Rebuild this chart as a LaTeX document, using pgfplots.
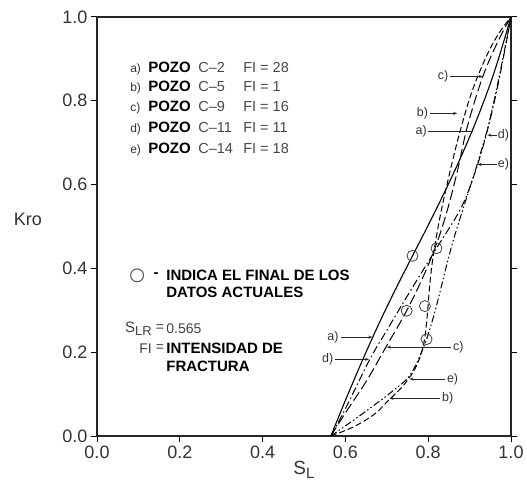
\documentclass[border=0pt]{standalone}
\usepackage{fontspec}
\setmainfont{Liberation Sans}
\newfontfamily\symfont{DejaVu Sans}
\usepackage{pgfplots}
\pgfplotsset{compat=1.18}
\usetikzlibrary{arrows.meta}
\pgfplotstableread{
x y
0.565 0
0.60 0.085
0.64 0.178
0.68 0.266
0.72 0.348
0.76 0.426
0.80 0.503
0.84 0.583
0.88 0.668
0.92 0.762
0.96 0.870
1.0 1.0
}\curveA
\pgfplotstableread{
x y
0.565 0
0.62 0.022
0.67 0.052
0.704 0.085
0.735 0.115
0.76 0.147
0.778 0.182
0.79 0.225
0.797 0.28
0.802 0.34
0.808 0.40
0.817 0.46
0.83 0.53
0.85 0.62
0.875 0.72
0.905 0.82
0.94 0.905
0.97 0.96
1.0 1.0
}\curveB
\pgfplotstableread{
x y
0.565 0
0.60 0.055
0.65 0.13
0.696 0.209
0.748 0.299
0.79 0.385
0.82 0.458
0.845 0.535
0.87 0.63
0.895 0.74
0.932 0.858
0.97 0.945
1.0 1.0
}\curveC
\pgfplotstableread{
x y
0.565 0
0.60 0.065
0.659 0.183
0.70 0.252
0.75 0.335
0.82 0.448
0.877 0.54
0.91 0.62
0.941 0.722
0.97 0.845
1.0 1.0
}\curveD
\pgfplotstableread{
x y
0.565 0
0.62 0.038
0.67 0.074
0.71 0.104
0.752 0.14
0.775 0.18
0.795 0.228
0.81 0.275
0.825 0.33
0.84 0.39
0.86 0.465
0.89 0.56
0.917 0.644
0.945 0.74
0.972 0.86
1.0 1.0
}\curveE
\pgfplotstableread{
x y
0.762 0.430
0.820 0.448
0.748 0.299
0.792 0.310
0.796 0.231
}\circs
\newcommand\lab{\fontsize{12bp}{14bp}\selectfont\color{black!80}}
\newcommand\pozo{\fontsize{15bp}{17bp}\selectfont\bfseries}
\newcommand\lite{\fontsize{14.5bp}{17bp}\selectfont\color{black!72}}
\newcommand\row[4]{\makebox[18bp][l]{\lab #1}\makebox[50bp][l]{\pozo POZO}\makebox[45bp][l]{\lite #2}{\lite FI = #3}}
\begin{document}
\begin{tikzpicture}
\begin{axis}[
  scale only axis, width=414bp, height=419bp,
  xmin=0, xmax=1, ymin=0, ymax=1,
  xtick={0,0.2,0.4,0.6,0.8,1.0}, ytick={0,0.2,0.4,0.6,0.8,1.0},
  xticklabel style={/pgf/number format/fixed, /pgf/number format/fixed zerofill, /pgf/number format/precision=1},
  yticklabel style={/pgf/number format/fixed, /pgf/number format/fixed zerofill, /pgf/number format/precision=1},
  /pgf/number format/assume math mode=true,
  tick label style={font=\fontsize{18bp}{20bp}\selectfont, text=black!80},
  tick align=outside, xtick pos=bottom, ytick pos=both, yticklabel pos=left,
  major tick length=6bp,
  tick style={line width=1pt, black},
  axis line style={line width=1.4pt, black!85},
  xlabel={S\raisebox{-0.45ex}{\fontsize{15bp}{15bp}\selectfont L}},
  xlabel style={font=\fontsize{19bp}{22bp}\selectfont, text=black!80, yshift=4bp},
  clip=false,
]
\addplot[black, line width=1.1pt, smooth, tension=0.6] table {\curveA};
\addplot[black, line width=1.0pt, smooth, tension=0.6, dash pattern=on 6bp off 3bp] table {\curveB};
\addplot[black, line width=1.0pt, smooth, tension=0.6, dash pattern=on 10bp off 4bp] table {\curveC};
\addplot[black, line width=1.0pt, smooth, tension=0.6, dash pattern=on 8bp off 3bp on 1.5bp off 3bp] table {\curveD};
\addplot[black, line width=1.0pt, smooth, tension=0.6, dash pattern=on 7bp off 2.5bp on 1.5bp off 2.5bp on 1.5bp off 2.5bp] table {\curveE};
\addplot[only marks, mark=o, mark size=5.5bp, mark options={black!75, line width=0.8pt}] table {\circs};

% y label
\node[font=\fontsize{18bp}{20bp}\selectfont, text=black!80] at (axis description cs:-0.167,0.518) {Kro};

% well legend
\node[anchor=west, inner sep=0] at (axis cs:0.08,0.878) {\row{a)}{C–2}{28}{}};
\node[anchor=west, inner sep=0] at (axis cs:0.08,0.832) {\row{b)}{C–5}{1}{}};
\node[anchor=west, inner sep=0] at (axis cs:0.08,0.784) {\row{c)}{C–9}{16}{}};
\node[anchor=west, inner sep=0] at (axis cs:0.08,0.734) {\row{d)}{C–11}{11}{}};
\node[anchor=west, inner sep=0] at (axis cs:0.08,0.683) {\row{e)}{C–14}{18}{}};

% circle note
\node[inner sep=0, font=\symfont\fontsize{18bp}{18bp}\selectfont, text=black!75] at (axis cs:0.097,0.383) {○};
\node[inner sep=0, font=\fontsize{15bp}{17bp}\selectfont\bfseries] at (axis cs:0.143,0.385) {-};
\node[anchor=west, inner sep=0, font=\fontsize{15bp}{17bp}\selectfont\bfseries] at (axis cs:0.167,0.383) {INDICA EL FINAL DE LOS};
\node[anchor=west, inner sep=0, font=\fontsize{15bp}{17bp}\selectfont\bfseries] at (axis cs:0.167,0.342) {DATOS ACTUALES};

% S_LR and FI
\node[anchor=east, inner sep=0, font=\fontsize{15bp}{17bp}\selectfont, text=black!75] at (axis cs:0.133,0.255) {S\raisebox{-0.4ex}{\fontsize{13bp}{13bp}\selectfont LR}};
\node[inner sep=0, font=\fontsize{14bp}{17bp}\selectfont, text=black!75] at (axis cs:0.152,0.257) {=};
\node[anchor=west, inner sep=0, font=\fontsize{14bp}{17bp}\selectfont, text=black!75] at (axis cs:0.167,0.257) {0.565};
\node[anchor=east, inner sep=0, font=\fontsize{14bp}{17bp}\selectfont, text=black!75] at (axis cs:0.133,0.209) {FI};
\node[inner sep=0, font=\fontsize{14bp}{17bp}\selectfont, text=black!75] at (axis cs:0.152,0.209) {=};
\node[anchor=west, inner sep=0, font=\fontsize{15bp}{17bp}\selectfont\bfseries] at (axis cs:0.167,0.209) {INTENSIDAD DE};
\node[anchor=west, inner sep=0, font=\fontsize{15bp}{17bp}\selectfont\bfseries] at (axis cs:0.167,0.167) {FRACTURA};

% curve labels with arrows (upper)
\tikzset{lbl/.style={inner sep=0, font=\fontsize{12.5bp}{14bp}\selectfont, text=black!80}, arr/.style={line width=0.8pt, black!85, -{Stealth[length=4bp, width=3bp]}}}
\node[lbl, anchor=east] at (axis cs:0.849,0.858) {c)};
\draw[arr] (axis cs:0.852,0.858) -- (axis cs:0.932,0.858);
\node[lbl, anchor=east] at (axis cs:0.800,0.770) {b)};
\draw[arr] (axis cs:0.805,0.770) -- (axis cs:0.870,0.770);
\node[lbl, anchor=east] at (axis cs:0.797,0.728) {a)};
\draw[line width=0.8pt, black!85] (axis cs:0.800,0.728) -- (axis cs:0.907,0.728);
\node[lbl, anchor=west] at (axis cs:0.968,0.718) {d)};
\draw[arr] (axis cs:0.967,0.718) -- (axis cs:0.943,0.718);
\node[lbl, anchor=west] at (axis cs:0.968,0.648) {e)};
\draw[arr] (axis cs:0.967,0.648) -- (axis cs:0.919,0.648);

% curve labels with arrows (lower)
\node[lbl, anchor=east] at (axis cs:0.584,0.236) {a)};
\draw[arr] (axis cs:0.590,0.236) -- (axis cs:0.665,0.236);
\node[lbl, anchor=east] at (axis cs:0.571,0.183) {d)};
\draw[arr] (axis cs:0.575,0.183) -- (axis cs:0.657,0.183);
\node[lbl, anchor=west] at (axis cs:0.860,0.212) {c)};
\draw[arr] (axis cs:0.855,0.212) -- (axis cs:0.700,0.212);
\node[lbl, anchor=west] at (axis cs:0.845,0.136) {e)};
\draw[arr] (axis cs:0.840,0.136) -- (axis cs:0.755,0.136);
\node[lbl, anchor=west] at (axis cs:0.833,0.090) {b)};
\draw[arr] (axis cs:0.828,0.090) -- (axis cs:0.706,0.090);
\end{axis}
\pgfresetboundingbox
\path (current axis.south west) ++(-97bp,-55bp) coordinate (bl);
\path (current axis.north east) ++(16bp,17bp) coordinate (tr);
\path[use as bounding box] (bl) rectangle (tr);
\end{tikzpicture}
\end{document}
